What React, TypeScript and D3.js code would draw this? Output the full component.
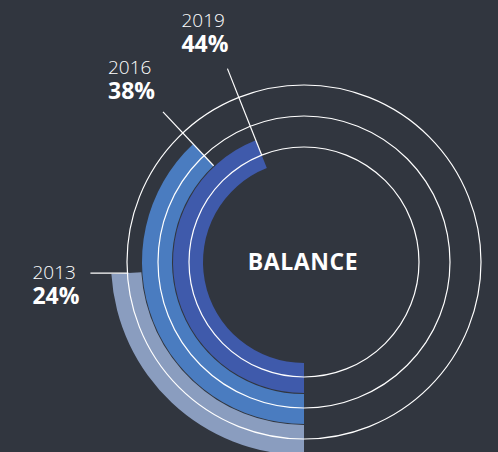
import React, { useEffect, useRef } from 'react';
import * as d3 from 'd3';

// values
const years = ['2013', '2016', '2019'];
const shares = [24, 38, 44];
const bandColors = ['#8a9dbf', '#4a7cc0', '#3f5aab'];
const centerLabel = 'BALANCE';

const App = () => {
  const ref = useRef<SVGSVGElement>(null);

  useEffect(() => {
    const svg = d3.select(ref.current);
    svg.selectAll('*').remove();

    const width = 498;
    const height = 452;
    const cx = 304;
    const cy = 262;
    const bg = '#31363f';

    svg.attr('width', width).attr('height', height);

    svg.append('rect')
      .attr('width', width)
      .attr('height', height)
      .attr('fill', bg);

    const g = svg.append('g').attr('transform', `translate(${cx},${cy})`);

    // arcs start at 6 o'clock and sweep clockwise
    const angle = d3.scaleLinear().domain([0, 100]).range([Math.PI, 3 * Math.PI]);

    // outermost band is the oldest year
    const bands = [
      { inner: 163, outer: 193 },
      { inner: 132, outer: 162 },
      { inner: 101, outer: 131 },
    ];

    const arc = d3.arc<any>()
      .innerRadius(d => d.inner)
      .outerRadius(d => d.outer)
      .startAngle(angle(0))
      .endAngle(d => angle(d.value));

    g.selectAll('path.band')
      .data(years.map((y, i) => ({ year: y, value: shares[i], ...bands[i] })))
      .enter()
      .append('path')
      .attr('class', 'band')
      .attr('d', arc)
      .attr('fill', (_, i) => bandColors[i]);

    // thin white rings over the bands
    g.selectAll('circle.ring')
      .data([115, 146, 177])
      .enter()
      .append('circle')
      .attr('r', d => d)
      .attr('fill', 'none')
      .attr('stroke', '#ffffff')
      .attr('stroke-width', 1.2);

    // leader lines and labels
    const leaders = [
      { r0: 176, r1: 214, dx: -58, dy: 6 },
      { r0: 132, r1: 206, dx: -55, dy: -38 },
      { r0: 115, r1: 208, dx: -46, dy: -42 },
    ];

    const polar = (a: number, r: number) => [r * Math.sin(a), -r * Math.cos(a)];

    years.forEach((year, i) => {
      const a = angle(shares[i]);
      const L = leaders[i];
      const [x0, y0] = polar(a, L.r0);
      let [x1, y1] = polar(a, L.r1);
      if (i === 0) y1 = y0; // the 2013 leader runs flat
      g.append('line')
        .attr('x1', x0).attr('y1', y0)
        .attr('x2', x1).attr('y2', y1)
        .attr('stroke', '#ffffff')
        .attr('stroke-width', 1.2);

      const tx = x1 + L.dx;
      const ty = y1 + L.dy;
      g.append('text')
        .attr('x', tx)
        .attr('y', ty)
        .attr('font-family', 'Open Sans, sans-serif')
        .attr('font-weight', 300)
        .attr('font-size', 19)
        .attr('fill', '#ffffff')
        .text(year);
      g.append('text')
        .attr('x', tx)
        .attr('y', ty + 25)
        .attr('font-family', 'Open Sans, sans-serif')
        .attr('font-weight', 700)
        .attr('font-size', 23)
        .attr('fill', '#ffffff')
        .text(`${shares[i]}%`);
    });

    g.append('text')
      .attr('x', -1)
      .attr('y', 8)
      .attr('text-anchor', 'middle')
      .attr('font-family', 'Open Sans, sans-serif')
      .attr('font-weight', 700)
      .attr('font-size', 23)
      .attr('letter-spacing', 0.6)
      .attr('fill', '#ffffff')
      .text(centerLabel);
  }, []);

  return (
    <div style={{ position: 'fixed', left: 0, top: 0 }}>
      <svg ref={ref} style={{ display: 'block' }}></svg>
    </div>
  );
};

export default App;
